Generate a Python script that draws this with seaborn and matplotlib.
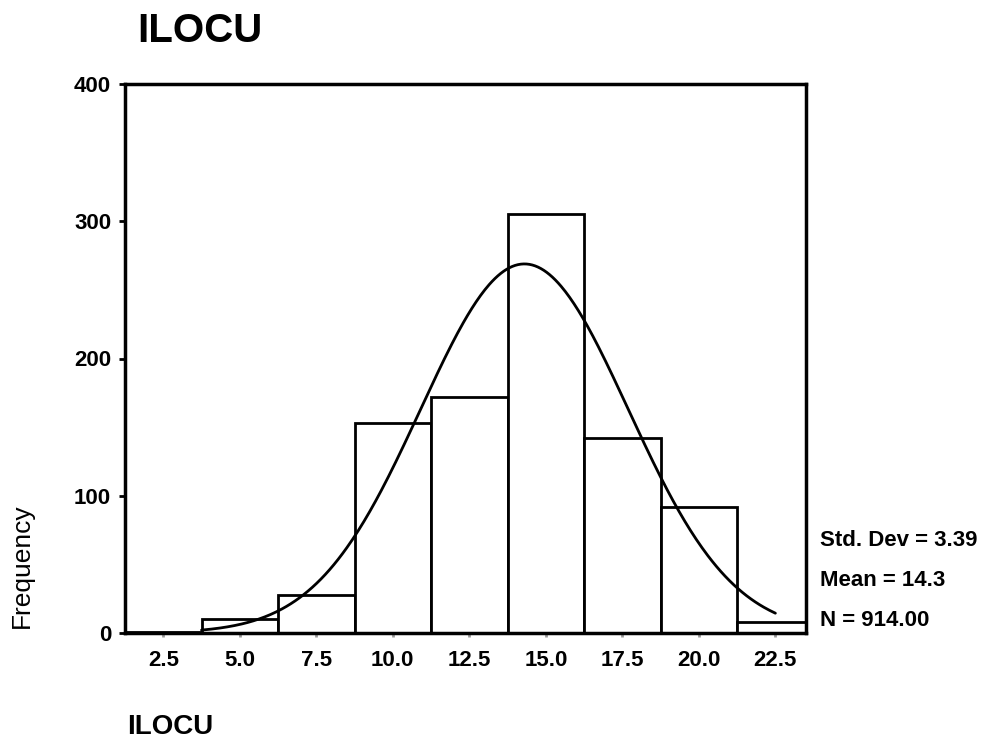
import numpy as np
import pandas as pd
import matplotlib
matplotlib.use("Agg")
import matplotlib.pyplot as plt
import seaborn as sns

# ---- data ----
bin_centers = [2.5, 5.0, 7.5, 10.0, 12.5, 15.0, 17.5, 20.0, 22.5]
frequencies = [1, 10, 28, 153, 172, 305, 142, 92, 8]
x_tick_labels = ["2.5", "5.0", "7.5", "10.0", "12.5", "15.0", "17.5", "20.0", "22.5"]
y_ticks = [0, 100, 200, 300, 400]
std_dev = 3.39
mean_val = 14.3
n_total = 914
bin_width = 2.5

sns.set_style("white")
plt.rcParams["font.family"] = ["Liberation Sans", "DejaVu Sans"]
plt.rcParams["text.color"] = "black"
plt.rcParams["xtick.labelcolor"] = "black"
plt.rcParams["ytick.labelcolor"] = "black"

W, H = 992, 740
fig = plt.figure(figsize=(W / 100, H / 100), dpi=100)
left, right, top, bottom = 125, 806, 84, 633
ax = fig.add_axes([left / W, 1 - bottom / H, (right - left) / W, (bottom - top) / H])

df = pd.DataFrame({"ILOCU": bin_centers, "Frequency": frequencies})
sns.histplot(data=df, x="ILOCU", weights="Frequency", binwidth=bin_width,
             binrange=(1.25, 23.75), color="white", edgecolor="black",
             linewidth=2, alpha=1, ax=ax)

# fitted normal curve (from reported mean / sd / N)
xs = np.linspace(3.75, 22.5, 400)
ys = n_total * bin_width / (std_dev * np.sqrt(2 * np.pi)) * np.exp(-0.5 * ((xs - mean_val) / std_dev) ** 2)
sns.lineplot(x=xs, y=ys, color="black", linewidth=2, ax=ax)

ax.set_xlim(1.25, 23.5)
ax.set_ylim(0, 400)
ax.set_xticks(bin_centers)
ax.set_xticklabels(x_tick_labels, fontsize=16, fontweight="bold", color="black")
ax.set_yticks(y_ticks)
ax.set_yticklabels([str(v) for v in y_ticks], fontsize=16, fontweight="bold", color="black")
ax.tick_params(axis="x", length=3, width=2, color="#999999", pad=9, direction="out", bottom=True)
ax.tick_params(axis="y", length=4, width=2, color="black", pad=6, direction="out", left=True)
ax.set_xlabel("")
ax.set_ylabel("")
for s in ax.spines.values():
    s.set_linewidth(2.5)
    s.set_color("black")

fig.text(137 / W, 1 - 31 / H, "ILOCU", fontsize=29, fontweight="bold", ha="left", va="center", color="black")
fig.text(22 / W, 1 - 566 / H, "Frequency", fontsize=19, rotation=90, ha="center", va="center", color="black")
fig.text(127 / W, 1 - 727 / H, "ILOCU", fontsize=20, fontweight="bold", ha="left", va="center", color="black")

stats = [f"Std. Dev = {std_dev:.2f}", f"Mean = {mean_val:.1f}", f"N = {n_total:.2f}"]
for txt, yy in zip(stats, [541, 581, 621]):
    fig.text(820 / W, 1 - yy / H, txt, fontsize=16, fontweight="bold", ha="left", va="center", color="black")

fig.savefig("out.png", dpi=100, facecolor="white")
